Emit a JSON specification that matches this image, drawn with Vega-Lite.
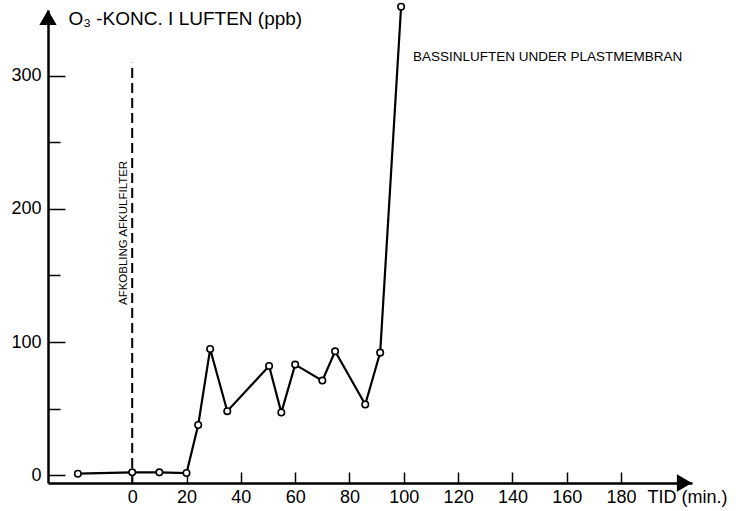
{
  "$schema": "https://vega.github.io/schema/vega-lite/v6.json",
  "autosize": "none",
  "width": 644,
  "height": 473,
  "padding": {"left": 48, "top": 10, "right": 44, "bottom": 28},
  "background": "white",
  "config": {
    "view": {"stroke": null},
    "font": "Liberation Sans",
    "axis": {"grid": false, "domainColor": "black", "domainWidth": 2.5, "tickColor": "black", "tickWidth": 1.5, "labelColor": "black", "titleColor": "black", "labelFont": "Liberation Sans", "titleFont": "Liberation Sans", "labelFontSize": 18, "titleFontWeight": "normal"}
  },
  "datasets": {
    "series": [
      {"t": -20, "v": 1},
      {"t": 0, "v": 2},
      {"t": 10, "v": 2},
      {"t": 20, "v": 1.5},
      {"t": 24.3, "v": 37.6},
      {"t": 28.7, "v": 94.7},
      {"t": 35, "v": 48},
      {"t": 50.4, "v": 82},
      {"t": 54.9, "v": 47},
      {"t": 60, "v": 83},
      {"t": 70, "v": 71},
      {"t": 74.7, "v": 93},
      {"t": 85.8, "v": 53},
      {"t": 91.3, "v": 92},
      {"t": 99, "v": 352}
    ]
  },
  "layer": [
    {
      "data": {"values": [{"t": 0, "v0": -6, "v1": 310}]},
      "mark": {"type": "rule", "color": "black", "strokeWidth": 2, "strokeDash": [10, 5]},
      "encoding": {
        "x": {"field": "t", "type": "quantitative", "scale": {"domain": [-31, 206.1], "nice": false, "zero": false},
          "axis": {"values": [0, 20, 40, 60, 80, 100, 120, 140, 160, 180], "tickSize": -11, "labelPadding": 16, "title": "TID (min.)", "titleFontSize": 18, "titleX": 599, "titleY": 5, "titleAlign": "left", "titleBaseline": "top", "titleAnchor": null}},
        "y": {"field": "v0", "type": "quantitative", "scale": {"domain": [-6, 349.6], "nice": false, "zero": false},
          "axis": {"values": [0, 50, 100, 150, 200, 250, 300], "labelExpr": "datum.value % 100 === 0 ? datum.label : ''", "tickSize": {"condition": {"test": "datum.value % 100 === 0", "value": -17}, "value": -12}, "labelPadding": 24, "title": "O₃ -KONC. I LUFTEN (ppb)", "titleFontSize": 19, "titleAngle": 0, "titleX": 20, "titleY": 8, "titleAlign": "left", "titleBaseline": "middle", "titleAnchor": null}},
        "y2": {"field": "v1"}
      }
    },
    {
      "data": {"name": "series"},
      "mark": {"type": "line", "color": "black", "strokeWidth": 2.2},
      "encoding": {
        "x": {"field": "t", "type": "quantitative"},
        "y": {"field": "v", "type": "quantitative"}
      }
    },
    {
      "data": {"name": "series"},
      "mark": {"type": "point", "shape": "circle", "filled": true, "fill": "white", "stroke": "black", "strokeWidth": 1.6, "size": 42, "opacity": 1, "clip": false},
      "encoding": {
        "x": {"field": "t", "type": "quantitative"},
        "y": {"field": "v", "type": "quantitative"}
      }
    },
    {
      "data": {"values": [{"t": -31, "v": 344}]},
      "mark": {"type": "point", "shape": "triangle-up", "filled": true, "color": "black", "size": 300, "opacity": 1, "clip": false},
      "encoding": {
        "x": {"field": "t", "type": "quantitative"},
        "y": {"field": "v", "type": "quantitative"}
      }
    },
    {
      "data": {"values": [{"t": 203.3, "v": -6}]},
      "mark": {"type": "point", "shape": "triangle-right", "filled": true, "color": "black", "size": 300, "opacity": 1, "clip": false},
      "encoding": {
        "x": {"field": "t", "type": "quantitative"},
        "y": {"field": "v", "type": "quantitative"}
      }
    },
    {
      "data": {"values": [{"t": 103.4, "v": 314, "label": "BASSINLUFTEN UNDER PLASTMEMBRAN"}]},
      "mark": {"type": "text", "align": "left", "baseline": "middle", "fontSize": 13.5, "color": "black", "font": "Liberation Sans"},
      "encoding": {
        "x": {"field": "t", "type": "quantitative"},
        "y": {"field": "v", "type": "quantitative"},
        "text": {"field": "label"}
      }
    },
    {
      "data": {"values": [{"t": 0, "v": 182, "label": "AFKOBLING  AFKULFILTER"}]},
      "mark": {"type": "text", "align": "center", "baseline": "bottom", "dy": -3, "angle": 270, "fontSize": 11.5, "color": "black", "font": "Liberation Sans"},
      "encoding": {
        "x": {"field": "t", "type": "quantitative"},
        "y": {"field": "v", "type": "quantitative"},
        "text": {"field": "label"}
      }
    }
  ]
}
